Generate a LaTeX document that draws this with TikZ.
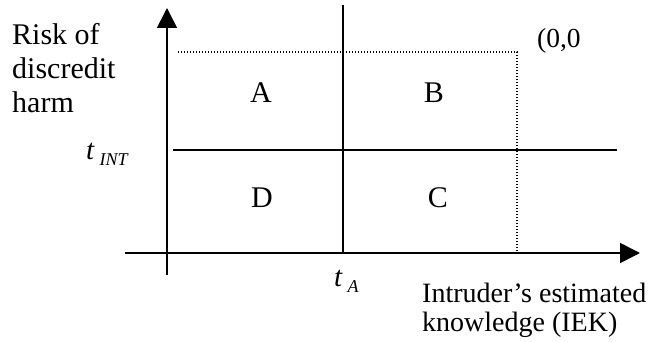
\documentclass[tikz,border=0pt]{standalone}
\usepackage{fontspec}
\setmainfont{Liberation Serif}
\usetikzlibrary{arrows.meta, positioning}
\tikzstyle{axis} = [line width=1.6pt, -{Triangle[width=20pt,length=20pt]}]
\tikzstyle{border} = [line width=1.4pt]
\tikzstyle{guide} = [line width=1.2pt, dash pattern=on 1.2pt off 1.8pt]
\tikzstyle{txt} = [inner sep=0pt, anchor=base west, font=\fontsize{30}{34}\selectfont]
\tikzstyle{cell} = [inner sep=0pt, anchor=base, font=\fontsize{30}{34}\selectfont]
\newcommand{\thr}[2]{\textit{#1}\,\raisebox{-6pt}{\fontsize{18}{18}\selectfont\textit{#2}}}

\begin{document}
\begin{tikzpicture}[x=1pt, y=-1pt]
        \useasboundingbox (0,0) rectangle (657,342);
        % axes
        \coordinate (ybot) at (167,275);
        \coordinate (ytop) at (167,8);
        \coordinate (xleft) at (125,253);
        \coordinate (xright) at (640,253);
        \draw [axis] (ybot) -- (ytop);
        \draw [axis] (xleft) -- (xright);
        % thresholds
        \coordinate (atop) at (343,5);
        \coordinate (abot) at (343,253);
        \coordinate (ileft) at (173,150);
        \coordinate (iright) at (617,150);
        \draw [border] (atop) -- (abot);
        \draw [border] (ileft) -- (iright);
        % dotted bound
        \coordinate (dl) at (178,52);
        \coordinate (dr) at (517,52);
        \coordinate (db) at (517,253);
        \draw [guide] (dl) -- (dr) -- (db);

        % base of a multi-line node is its last line
        \node (risk) [txt, align=left] at (12,113) {Risk of\\discredit\\harm};
        \node (orig) [txt, font=\fontsize{27.5}{32}\selectfont] at (537,48) {(0,0};
        \node (tint) [txt, font=\fontsize{29}{32}\selectfont] at (86,160) {\thr{t}{INT}};
        \node (ta) [txt, font=\fontsize{29}{32}\selectfont] at (334,287) {\thr{t}{A}};
        \node (iek) [txt, align=left, font=\fontsize{28}{28.5}\selectfont] at (422,331) {Intruder’s estimated\\knowledge (IEK)};

        \node (A) [cell] at (261,103) {A};
        \node (B) [cell] at (434,103) {B};
        \node (D) [cell] at (262,208) {D};
        \node (C) [cell] at (438,208) {C};
    \end{tikzpicture}
\end{document}
